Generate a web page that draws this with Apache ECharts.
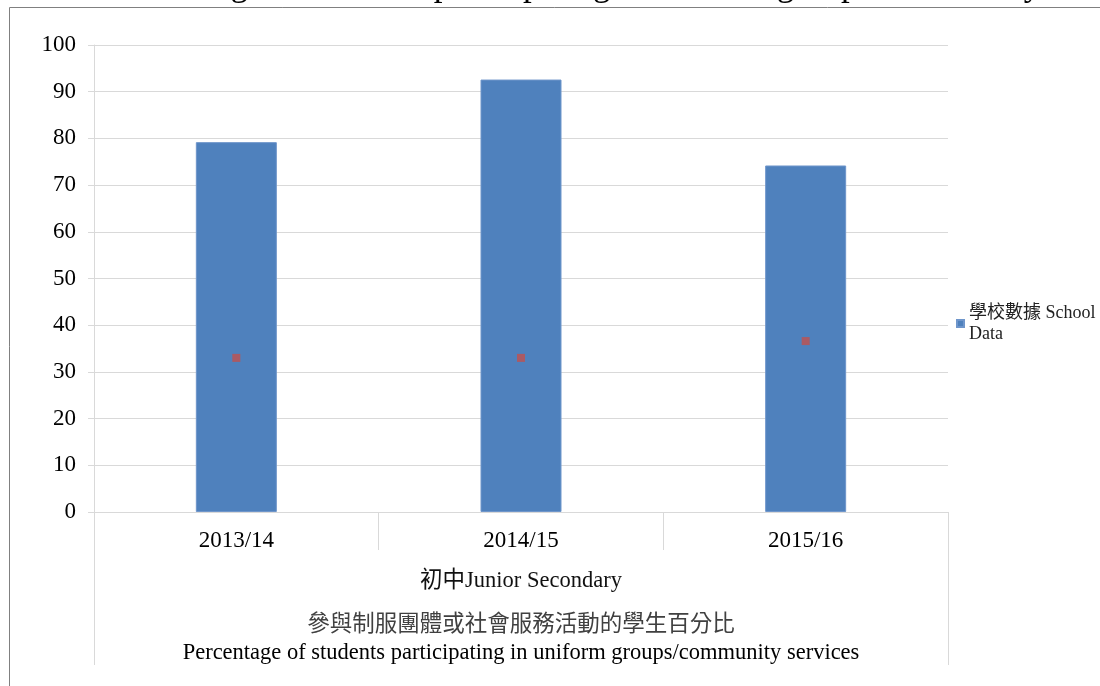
<!DOCTYPE html>
<html>
<head>
<meta charset="utf-8">
<script src="https://cdn.jsdelivr.net/npm/echarts@6/dist/echarts.min.js"></script>
<style>
  html, body { margin: 0; padding: 0; background: #fff; }
  #chart { width: 1100px; height: 686px; }
</style>
</head>
<body>
<div id="chart"></div>
<script>
// 數據
const years = ['2013/14', '2014/15', '2015/16']
const schoolData = [79.2, 92.6, 74.2]
const territoryData = [33.0, 33.0, 36.6]
const yTicks = [0, 100, 10] // min, max, interval

const FONT = "'Liberation Serif', 'Noto Sans CJK TC', serif"
// 繪圖區邊界
const gLeft = 94, gRight = 948, gTop = 45, gBottom = 512

let myChart = echarts.init(document.getElementById('chart'))
myChart.setOption({
  animation: false,
  grid: {
    left: gLeft,
    right: 1100 - gRight,
    top: gTop,
    bottom: 686 - gBottom
  },
  legend: {
    data: ['學校數據 School\nData'],
    left: 951,
    top: 287,
    icon: 'rect',
    itemWidth: 7,
    itemHeight: 7,
    itemGap: 4,
    textStyle: {
      fontFamily: FONT,
      fontSize: 18,
      color: '#222',
      lineHeight: 21,
      padding: [21, 0, 0, 0]
    }
  },
  xAxis: {
    type: 'category',
    data: years,
    axisLine: { lineStyle: { color: '#d9d9d9' } },
    axisTick: { show: true, length: 38, interval: 0, lineStyle: { color: '#d9d9d9' } },
    axisLabel: { fontFamily: FONT, fontSize: 23, color: '#000', margin: 17 }
  },
  yAxis: {
    type: 'value',
    min: yTicks[0],
    max: yTicks[1],
    interval: yTicks[2],
    axisLine: { show: true, lineStyle: { color: '#d9d9d9' } },
    axisTick: { show: true, length: 6, lineStyle: { color: '#d9d9d9' } },
    splitLine: { lineStyle: { color: '#d9d9d9' } },
    axisLabel: { fontFamily: FONT, fontSize: 23, color: '#000', margin: 18, padding: [3, 0, 0, 0] }
  },
  series: [
    {
      name: '學校數據 School\nData',
      type: 'bar',
      data: schoolData,
      barWidth: 81,
      itemStyle: { color: '#4f81bd', borderColor: '#6f96cb', borderWidth: 1 }
    },
    {
      name: '全港',
      type: 'scatter',
      data: territoryData,
      symbol: 'rect',
      symbolSize: 8,
      itemStyle: { color: '#c0504d' }
    }
  ],
  graphic: [
    // 被裁掉的頁面標題（只露出下半部）
    { type: 'text', x: 110, y: -14,
      style: { text: 'Percentage of students participating in uniform groups/community services',
        font: '35px ' + FONT, fill: '#000', verticalAlign: 'middle' } },
    // 遮住外框以下的部分
    { type: 'rect', shape: { x: 0, y: 7, width: 1100, height: 12 }, style: { fill: '#fff' } },
    // 外框
    { type: 'polyline', shape: { points: [[9.5, 686], [9.5, 7.5], [1100, 7.5]] },
      style: { stroke: '#808080', lineWidth: 1, fill: null } },
    // 多層分類軸的邊線
    { type: 'line', shape: { x1: gLeft + 0.5, y1: gBottom, x2: gLeft + 0.5, y2: 665 },
      style: { stroke: '#d9d9d9', lineWidth: 1 } },
    { type: 'line', shape: { x1: gRight + 0.5, y1: gBottom, x2: gRight + 0.5, y2: 665 },
      style: { stroke: '#d9d9d9', lineWidth: 1 } },
    { type: 'text', x: (gLeft + gRight) / 2, y: 581,
      style: { text: '初中Junior Secondary', font: '22.5px ' + FONT, fill: '#111',
        align: 'center', verticalAlign: 'middle' } },
    { type: 'text', x: (gLeft + gRight) / 2, y: 625,
      style: { text: '參與制服團體或社會服務活動的學生百分比', font: '22.5px ' + FONT, fill: '#404040',
        align: 'center', verticalAlign: 'middle' } },
    { type: 'text', x: (gLeft + gRight) / 2, y: 653,
      style: { text: 'Percentage of students participating in uniform groups/community services',
        font: '22.5px ' + FONT, fill: '#000', align: 'center', verticalAlign: 'middle' } }
  ]
})
</script>
</body>
</html>
